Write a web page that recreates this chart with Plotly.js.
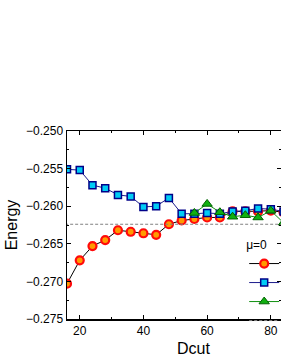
<!DOCTYPE html>
<html>
<head>
<meta charset="utf-8">
<script src="https://cdn.plot.ly/plotly-3.0.1.min.js"></script>
<style>html,body{margin:0;padding:0;background:#fff;}#chart{width:281px;height:363px;}</style>
</head>
<body>
<div id="chart"></div>
<script>
// Data
var dcut = [16, 20, 24, 28, 32, 36, 40, 44, 48, 52, 56, 60, 64, 68, 72, 76, 80, 84];
var energyRed = [-0.2703, -0.2672, -0.2653, -0.2645, -0.2632, -0.2634, -0.2636, -0.2638, -0.2624, -0.2619, -0.2617, -0.2615, -0.2615, -0.2607, -0.2607, -0.2607, -0.2606, -0.2608];
var energyBlue = [-0.2551, -0.2552, -0.2572, -0.2576, -0.2585, -0.2587, -0.2601, -0.2600, -0.2589, -0.2610, -0.2610, -0.2609, -0.2610, -0.2607, -0.2606, -0.2603, -0.2604, -0.2607];
var dcutGreen = [56, 60, 64, 68, 72, 76, 80, 84];
var energyGreen = [-0.2609, -0.2597, -0.2608, -0.2614, -0.2612, -0.2615, -0.2606, -0.2622];
var refEnergy = -0.2624;
var xRange = [16, 83.2];
var yRange = [-0.275, -0.250];
var legendTitle = "μ=0";
var seriesNames = ["Full update", "Simple update", "Cluster update", "Reference"];

var font = "Arial, 'Liberation Sans', sans-serif";

var traces = [
  {
    x: dcut, y: energyRed, name: seriesNames[0], type: "scatter", mode: "lines+markers",
    line: {color: "#000000", width: 1},
    marker: {symbol: "circle", size: 8, color: "#ff9a00", line: {color: "#ff0a0a", width: 2.2}}
  },
  {
    x: dcut, y: energyBlue, name: seriesNames[1], type: "scatter", mode: "lines+markers",
    line: {color: "#1c1c8c", width: 1},
    marker: {symbol: "square", size: 7, color: "#00ccf5", line: {color: "#000088", width: 1.5}}
  },
  {
    x: dcutGreen, y: energyGreen, name: seriesNames[2], type: "scatter", mode: "lines+markers",
    line: {color: "#109010", width: 1},
    marker: {symbol: "triangle-up", size: 9, color: "#10b010", line: {color: "#006000", width: 1}}
  },
  {
    x: [xRange[0] - 10, xRange[1] + 10], y: [refEnergy, refEnergy], name: seriesNames[3], type: "scatter", mode: "lines",
    line: {color: "#808080", width: 1, dash: "3px,2px"}
  }
];

var axisCommon = {
  showgrid: false, zeroline: false, showline: true, linecolor: "#000000", linewidth: 1.5,
  mirror: "ticks", ticks: "inside", ticklen: 4, tickwidth: 1, tickcolor: "#000000",
  tickfont: {family: font, size: 12, color: "#000000"}
};

var layout = {
  width: 281, height: 363,
  margin: {l: 67, r: 0, t: 131, b: 44, autoexpand: false},
  paper_bgcolor: "#ffffff", plot_bgcolor: "#ffffff",
  showlegend: true,
  xaxis: Object.assign({}, axisCommon, {
    range: xRange, dtick: 20, tick0: 0,
    minor: {dtick: 10, ticks: "inside", ticklen: 2, tickcolor: "#000000", showgrid: false}
  }),
  yaxis: Object.assign({}, axisCommon, {
    range: yRange, dtick: 0.005, tick0: -0.25, tickformat: ".3f",
    minor: {dtick: 0.0025, ticks: "inside", ticklen: 2, tickcolor: "#000000", showgrid: false},
    title: {text: "Energy", font: {family: font, size: 16, color: "#000000"}, standoff: 4}
  }),
  legend: {
    x: 0.828, y: 0.455, xanchor: "left", yanchor: "top",
    bgcolor: "rgba(0,0,0,0)", borderwidth: 0,
    font: {family: font, size: 12, color: "#000000"},
    title: {text: legendTitle, font: {family: font, size: 12, color: "#000000"}}
  },
  annotations: [
    {text: "Dcut", xref: "paper", yref: "paper", x: 0.593, y: 0, yshift: -29,
     xanchor: "center", yanchor: "middle", showarrow: false,
     font: {family: font, size: 16, color: "#000000"}}
  ]
};

Plotly.newPlot("chart", traces, layout, {displayModeBar: false, staticPlot: true});
</script>
</body>
</html>
